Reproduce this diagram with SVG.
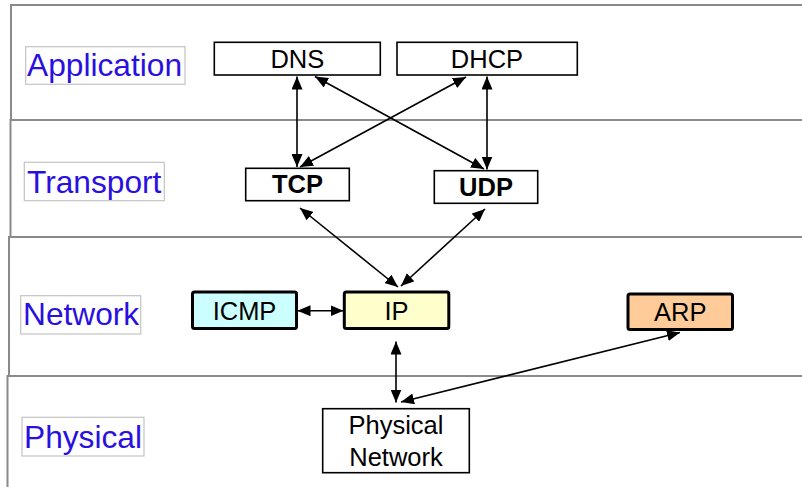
<svg xmlns="http://www.w3.org/2000/svg" width="802" height="487" viewBox="0 0 802 487">
  <style>
    .band { fill: none; stroke: #8a8a8a; stroke-width: 2; }
    .lblbox { fill: #ffffff; stroke: #c4c4c4; stroke-width: 1.2; }
    .lbl { font-family: "Liberation Sans", Arial, sans-serif; font-size: 31.7px; fill: #2a10e0; }
    .box { fill: #ffffff; stroke: #000000; stroke-width: 1.6; }
    .thick { stroke: #000000; stroke-width: 3; }
    .txt { font-family: "Liberation Sans", Arial, sans-serif; font-size: 25.5px; fill: #000000; text-anchor: middle; }
    .bold { font-weight: bold; }
    .conn { fill: none; stroke: #000000; stroke-width: 1.6; marker-start: url(#ah); marker-end: url(#ah); }
  </style>
  <defs>
    <marker id="ah" viewBox="0 0 13 11" refX="13" refY="5.5" markerWidth="13" markerHeight="11" markerUnits="userSpaceOnUse" orient="auto-start-reverse">
      <path d="M0,0 L13,5.5 L0,11 Z" fill="#000000"/>
    </marker>
  </defs>
  <rect width="802" height="487" fill="#ffffff"/>

  <!-- layer bands -->
  <g id="layers">
    <rect class="band" x="11" y="5" width="900" height="115"/>
    <rect class="band" x="10.5" y="120" width="900" height="117"/>
    <rect class="band" x="9" y="237" width="900" height="139"/>
    <rect class="band" x="7.5" y="376" width="900" height="200"/>
  </g>

  <!-- layer labels -->
  <g id="label-application">
    <rect class="lblbox" x="25.7" y="46.7" width="159.3" height="37.6"/>
    <text class="lbl" x="27" y="76">Application</text>
  </g>
  <g id="label-transport">
    <rect class="lblbox" x="24.3" y="162.3" width="140" height="38.4"/>
    <text class="lbl" x="27" y="193">Transport</text>
  </g>
  <g id="label-network">
    <rect class="lblbox" x="20.7" y="295.7" width="120" height="38.3"/>
    <text class="lbl" x="23" y="324.5">Network</text>
  </g>
  <g id="label-physical">
    <rect class="lblbox" x="22" y="417.3" width="122" height="38.7"/>
    <text class="lbl" x="24" y="447.5">Physical</text>
  </g>

  <!-- connectors -->
  <g id="connectors">
    <path class="conn" d="M297,76.5 L297,167"/>
    <path class="conn" d="M315,76.5 L484,169"/>
    <path class="conn" d="M466,77 L300,167"/>
    <path class="conn" d="M487,76.5 L487,169.5"/>
    <path class="conn" d="M300,208 L398,287"/>
    <path class="conn" d="M485,209 L401,286"/>
    <path class="conn" d="M297.5,310.7 L343.5,310.7"/>
    <path class="conn" d="M396,341.5 L396,402.5"/>
    <path class="conn" d="M401,402 L680,332.5"/>
  </g>

  <!-- nodes -->
  <g id="dns">
    <rect class="box" x="214.3" y="42.3" width="166" height="32.7"/>
    <text class="txt" x="297.3" y="67.5">DNS</text>
  </g>
  <g id="dhcp">
    <rect class="box" x="397" y="42.3" width="180.3" height="32.7"/>
    <text class="txt" x="487" y="67.5">DHCP</text>
  </g>
  <g id="tcp">
    <rect class="box" x="245.7" y="168.3" width="103.6" height="32.4"/>
    <text class="txt bold" x="297.5" y="193.3">TCP</text>
  </g>
  <g id="udp">
    <rect class="box" x="434.3" y="170.7" width="103.4" height="32.6"/>
    <text class="txt bold" x="486" y="196">UDP</text>
  </g>
  <g id="icmp">
    <rect class="thick" x="192.5" y="292" width="104" height="36.5" rx="2" fill="#ccffff"/>
    <text class="txt" x="244.5" y="320">ICMP</text>
  </g>
  <g id="ip">
    <rect class="thick" x="344.3" y="292" width="104.5" height="36.5" rx="2" fill="#ffffcc"/>
    <text class="txt" x="396.5" y="320">IP</text>
  </g>
  <g id="arp">
    <rect class="thick" x="628" y="294" width="104.5" height="35.5" rx="2" fill="#ffcc99"/>
    <text class="txt" x="680.2" y="321">ARP</text>
  </g>
  <g id="physical-network">
    <rect class="box" x="322.7" y="408.7" width="146.6" height="64"/>
    <text class="txt" x="396" y="434">Physical</text>
    <text class="txt" x="396" y="466">Network</text>
  </g>
</svg>
